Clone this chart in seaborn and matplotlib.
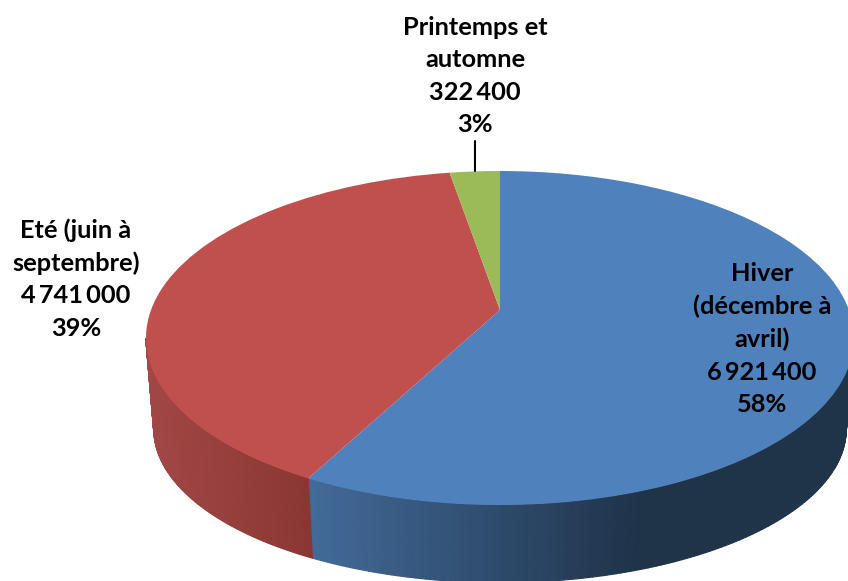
import numpy as np
import matplotlib
matplotlib.use('Agg')
import matplotlib.pyplot as plt
from matplotlib.collections import PolyCollection
from matplotlib.colors import LinearSegmentedColormap
from matplotlib.transforms import Transform
import seaborn as sns

# valeurs
saisons = ['Hiver', 'Eté', 'Printemps']
valeurs = [6921400, 4741000, 322400]
pourcentages = ['58%', '39%', '3%']
noms = ['Hiver\n(décembre à\navril)', 'Eté (juin à\nseptembre)', 'Printemps et\nautomne']
couleurs = ['#4F81BD', '#C0504D', '#9BBB59']
degrades = [('#426A99', '#1F3349'), ('#A24745', '#8A3734'), ('#76903F', '#5C7030')]

W, H = 848, 581
# perspective du disque : sommet en (500, 310)
CX, CY = 500, 310
K = 0.1677
A, B = 349, 162.3


def projeter(pts):
    pts = np.asarray(pts, dtype=float)
    d = 1 + K * pts[:, 1]
    return np.column_stack([CX + A * pts[:, 0] / d, CY - B * pts[:, 1] / d])


def projeter_bas(pts):
    # disque du dessous : un peu plus petit et decale vers le bas
    p = projeter(pts)
    return np.column_stack([CX + (p[:, 0] - CX) * 0.978, 429 + (p[:, 1] - 338) * 0.92])


class Perspective(Transform):
    input_dims = 2
    output_dims = 2
    is_affine = False

    def transform_non_affine(self, values):
        return projeter(values)


sns.set_theme(style='white')
plt.rcParams['font.family'] = ['Lato', 'DejaVu Sans']

fig = plt.figure(figsize=(W / 100, H / 100), dpi=100)
ax = fig.add_axes([0, 0, 1, 1])

wedges, _ = ax.pie(valeurs, colors=sns.color_palette(couleurs), startangle=90, counterclock=False,
                   wedgeprops={'linewidth': 0, 'zorder': 3})
ax.set_aspect('auto')
ax.set_xlim(0, W)
ax.set_ylim(H, 0)
ax.axis('off')

persp = Perspective()
for w in wedges:
    w.set_transform(persp + ax.transData)

# flanc du camembert, degrade de gauche a droite (seulement la moitie avant)
for w, (c1, c2) in zip(wedges, degrades):
    cmap = LinearSegmentedColormap.from_list('flanc', [c1, c2])
    t = np.radians(np.linspace(w.theta1, w.theta2, 300))
    disque = np.column_stack([np.cos(t), np.sin(t)])
    haut = projeter(disque)
    bas = projeter_bas(disque)
    devant = [i for i in range(len(t) - 1) if haut[i, 1] > 338 and haut[i + 1, 1] > 338]
    if not devant:
        continue
    quads = [[haut[i], haut[i + 1], bas[i + 1], bas[i]] for i in devant]
    xm = np.array([q[0][0] for q in quads])
    x0, x1 = xm.min(), xm.max()
    if c1 == degrades[0][0]:
        x1 = 640  # le bleu reste sombre apres 640 px
    coul = cmap(np.clip((xm - x0) / (x1 - x0), 0, 1))
    ax.add_collection(PolyCollection(quads, facecolors=coul, edgecolors=coul, linewidths=0.8, zorder=2))

# trait de rappel du petit secteur
mid = np.radians((wedges[2].theta1 + wedges[2].theta2) / 2)
pt = projeter([[np.cos(mid), np.sin(mid)]])[0]
ax.plot([pt[0], pt[0]], [141, pt[1]], color='black', lw=1.5, zorder=4)


def etiquette(i, x, y):
    nombre = f'{valeurs[i]:,}'.replace(',', '\u2009')
    texte = f'{noms[i]}\n{nombre}\n{pourcentages[i]}'
    ax.text(x, y, texte, ha='center', va='center', fontsize=18.3, fontweight='bold',
            color='black', linespacing=1.5, zorder=5)


etiquette(0, 762, 339)
etiquette(1, 76, 279)
etiquette(2, 475, 76)

fig.savefig('out.png', dpi=100)
